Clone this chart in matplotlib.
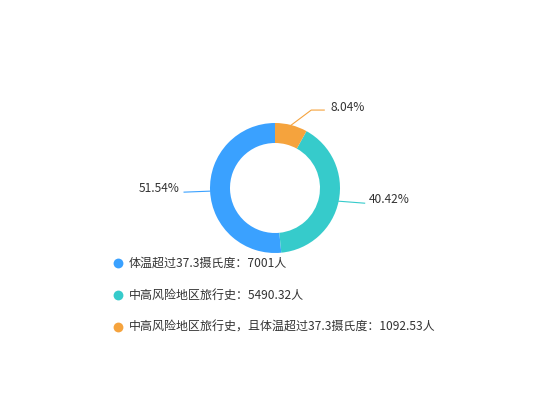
import matplotlib
matplotlib.use("Agg")
import matplotlib.pyplot as plt
import numpy as np

plt.rcParams['font.family'] = ['Noto Sans CJK SC', 'DejaVu Sans']

categories = ["体温超过37.3摄氏度", "中高风险地区旅行史", "中高风险地区旅行史，且体温超过37.3摄氏度"]
values = [7001, 5490.32, 1092.53]
colors = ["#3AA1FF", "#36CBCB", "#F5A33D"]

W, H = 550, 420
FS = 8.64  # 12px at 100 dpi
fig = plt.figure(figsize=(W / 100, H / 100), dpi=100)
ax = fig.add_axes([0, 0, 1, 1])

cx, cy = 275, H - 188
R = 65
wedges, _ = ax.pie(values, colors=colors, startangle=90, counterclock=True,
                   radius=R, center=(cx, cy), frame=True,
                   wedgeprops=dict(width=20, linewidth=0))
ax.set_xlim(0, W)
ax.set_ylim(0, H)
ax.set_aspect('equal')
ax.axis('off')

total = sum(values)
txt_color = '#333333'
for w, v in zip(wedges, values):
    mid = np.deg2rad((w.theta1 + w.theta2) / 2)
    pct = f"{v / total * 100:.2f}%"
    x0, y0 = cx + R * np.cos(mid), cy + R * np.sin(mid)
    if abs(np.cos(mid)) < 0.5:
        # near top: elbow leader
        x1 = x0 + 20
        y1 = y0 + 15
        x2 = x1 + 13
        ax.plot([x0, x1, x2], [y0, y1, y1], color=w.get_facecolor(), lw=0.8)
        ax.text(x2 + 6, y1 + 3, pct, ha='left', va='center', fontsize=FS, color=txt_color)
    else:
        sgn = 1 if np.cos(mid) > 0 else -1
        x1 = x0 + sgn * 26
        y1 = y0 - 2 if sgn > 0 else y0 - 1
        ax.plot([x0, x1], [y0, y1], color=w.get_facecolor(), lw=0.8)
        ax.text(x1 + sgn * 4, y1 + 4, pct, ha='left' if sgn > 0 else 'right',
                va='center', fontsize=FS, color=txt_color)

# legend
ly = [H - 263, H - 295, H - 327]
for yy, c, cat, v in zip(ly, colors, categories, values):
    ax.scatter([118], [yy], s=50, color=c, linewidths=0)
    ax.text(129, yy, f"{cat}：{v:g}人", ha='left', va='center', fontsize=FS, color=txt_color)

fig.savefig("out.png", dpi=100)
